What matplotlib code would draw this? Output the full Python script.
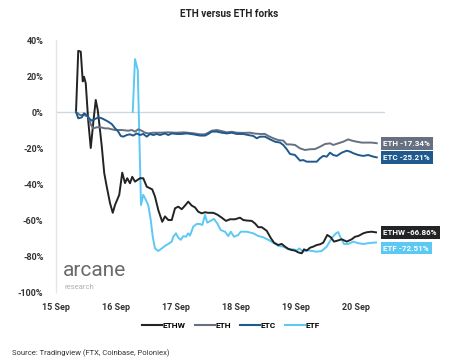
import matplotlib
matplotlib.use("Agg")
import matplotlib.pyplot as plt
from matplotlib.lines import Line2D

# hours since 15 Sep 00:00, values in %
ethw_t = [8.0, 8.9, 9.9, 10.7, 11.2, 11.9, 12.9, 13.9, 14.9, 15.9, 16.7, 17.6, 18.3, 19.3, 20.3, 21.6, 22.7, 23.6,
          25.3, 26.5, 27.6, 28.5, 29.6, 30.5, 31.6, 33.6, 34.9, 36.3, 38.5, 39.6, 40.9, 42.5, 43.6, 44.9, 46.3,
          47.6, 48.9, 50.3, 51.6, 52.9, 54.3, 55.6, 56.9, 58.3, 59.6, 60.9, 62.9, 64.5, 66.3, 68.0, 69.6, 71.6,
          73.6, 74.9, 76.3, 78.3, 79.6, 80.9, 82.3, 84.3, 85.9, 87.2, 88.9, 90.3, 91.6, 92.9, 94.3, 95.6, 96.9,
          98.3, 99.2, 100.3, 101.6, 102.9, 104.3, 105.6, 106.9, 108.5, 109.9, 111.2, 112.5, 114.3, 116.3, 118.3,
          119.6, 120.9, 122.9, 124.3, 126.3, 128.0]
ethw_v = [0, 34, 33.5, 17, 19.6, 16, -5, -20, -6, 6.7, 1, -10, -19, -34, -41.5, -50.6, -56, -51.7,
          -46, -33.7, -39.5, -36.8, -39.6, -36, -38.7, -36.8, -36.8, -41.5, -43, -47, -54.4, -61, -58, -60, -60,
          -53.5, -52.6, -54, -52, -49.8, -52, -53, -55.4, -56.3, -55.7, -56, -56, -57, -58.7, -60.5, -59.6, -59.6,
          -58.7, -60, -60.3, -60.5, -61.9, -64, -64, -66, -70, -72.6, -73.9, -73.3, -74.8, -76, -76.7, -77, -78,
          -78.5, -76.3, -77, -75.4, -74.8, -73.9, -73.5, -72.6, -68.3, -69.6, -72, -71.5, -70.7, -72, -70.7,
          -69.3, -68.9, -67.4, -66.8, -66.5, -66.86]

eth_t = [8.0, 9.6, 11.2, 12.9, 14.0, 14.9, 16.3, 17.9, 19.6, 20.9, 22.3, 23.6, 26.3, 28.9, 30.3, 31.6, 32.9,
         34.3, 35.6, 36.9, 38.8, 41.6, 44.8, 48.0, 51.2, 54.8, 57.6, 59.6, 60.9, 62.3, 64.3, 66.3, 68.3, 70.3,
         72.3, 74.9, 77.6, 79.6, 81.6, 83.6, 84.9, 86.9, 88.9, 90.9, 92.3, 93.6, 95.6, 97.6, 99.6, 101.6, 103.6,
         105.6, 107.6, 109.6, 110.9, 112.9, 114.9, 116.9, 118.3, 120.3, 122.3, 124.3, 126.3, 128.3]
eth_v = [0, -1.7, -1.7, -2.6, -7.2, -9.1, -8.5, -8.5, -9.1, -9.1, -9.6, -10, -10, -10.4, -10, -10.9, -9.6,
         -10.4, -11.5, -11.9, -11.5, -11.5, -11.3, -11.5, -11.3, -11.8, -12.4, -12.4, -11.5, -10.4, -10, -10.6,
         -11.3, -11, -11.5, -11.6, -11.5, -12.0, -12.2, -12.2, -13.3, -14.6, -15.6, -15.9, -18, -18, -18.3,
         -20.2, -21.1, -20.7, -20.6, -19.3, -17.8, -17.4, -18.3, -17.4, -16.5, -15.2, -15.9, -16.5, -17, -17,
         -17, -17.34]

etc_t = [8.0, 8.9, 10.3, 11.2, 12.3, 13.2, 14.3, 15.6, 16.9, 18.3, 19.6, 20.9, 22.3, 23.6, 24.9, 25.9, 26.9,
         28.3, 29.6, 30.9, 32.3, 33.6, 34.9, 36.3, 37.6, 38.9, 40.3, 41.6, 43.6, 44.9, 46.3, 48.3, 50.3, 52.3,
         54.9, 57.6, 59.6, 60.9, 62.3, 64.3, 66.3, 68.3, 70.3, 72.3, 74.9, 76.9, 78.9, 80.3, 81.6, 83.6, 85.6,
         87.6, 89.6, 90.9, 92.3, 93.6, 95.6, 97.6, 98.9, 100.3, 102.3, 104.3, 105.6, 106.9, 108.3, 109.6, 110.9,
         112.3, 114.3, 116.3, 117.6, 118.9, 120.9, 122.9, 124.9, 126.9, 128.3]
etc_v = [0, -3.5, -3, -0.7, -1.7, -3.5, -4.8, -3.9, -3, -3.5, -4.4, -5.4, -6.7, -9, -10.9, -13.3, -13.7,
         -12.8, -12.4, -13.1, -11.9, -12.8, -12.2, -13.7, -12.2, -12.8, -12.2, -12.8, -11.9, -12.8, -11.9, -12.2,
         -12.2, -11.9, -12.4, -13.1, -13.1, -12.2, -10.9, -10.9, -11.5, -11.9, -11.5, -12.2, -12.2, -12.8, -13.3,
         -14.6, -13.7, -13.7, -15.2, -16.5, -17, -18.3, -20.7, -23.3, -23.9, -27, -26.7, -27.6, -27.6, -27.6,
         -25.7, -24.4, -24.8, -22.6, -23.9, -24.4, -22.6, -21.5, -22, -22.9, -23.9, -24.4, -23.9, -24.8, -25.21]

etf_t = [30.7, 31.6, 32.7, 34.0, 34.9, 36.0, 36.9, 37.9, 38.7, 39.6, 40.9, 42.3, 43.6, 44.9, 46.3, 46.9, 48.0,
         48.9, 49.9, 50.9, 52.0, 52.9, 53.6, 54.9, 56.3, 57.6, 58.5, 59.6, 60.5, 61.9, 63.2, 64.5, 65.9, 67.6,
         68.9, 69.9, 71.2, 72.9, 73.9, 76.3, 78.9, 80.9, 82.9, 84.9, 86.9, 88.9, 90.9, 92.9, 94.9, 96.3, 97.3,
         98.9, 100.3, 102.3, 104.3, 106.3, 108.3, 110.3, 112.0, 112.9, 113.9, 115.2, 116.9, 118.9, 120.9, 122.9,
         124.9, 126.9, 128.0]
etf_v = [0, 29.4, 23.3, -51.7, -46, -49, -51.7, -60, -69.3, -75.8, -77.2, -75.8, -74.4, -73.3, -72, -69.3,
         -67.4, -69.8, -71, -69, -69.3, -67.4, -68.7, -63.7, -62.2, -62.2, -62.8, -57.2, -61.5, -60.4, -59.4,
         -61.9, -65.6, -66.5, -68.9, -66.5, -69.3, -68.3, -66.5, -66.5, -67.4, -68.9, -69.6, -71, -72.6, -74.4,
         -74.8, -76.3, -76.3, -77, -75.8, -77.6, -76.7, -77.2, -77.6, -77.2, -74.8, -70, -67.4, -66.7, -70,
         -73.3, -73.3, -72, -72.9, -73.3, -72.9, -72.6, -72.51]

tick_hours = [0, 24, 48, 72, 96, 120]
tick_labels = ["15 Sep", "16 Sep", "17 Sep", "18 Sep", "19 Sep", "20 Sep"]
y_ticks = [40, 20, 0, -20, -40, -60, -80, -100]

C_ETHW = "#222325"
C_ETH = "#667080"
C_ETC = "#1f5a8e"
C_ETF = "#5cc8f4"

plt.rcParams['font.family'] = ['Roboto', 'DejaVu Sans']
fig = plt.figure(figsize=(4.6, 3.6), dpi=100)
ax = fig.add_axes([56/460, 1-292/360, (385-56)/460, (292-40)/360])

ax.axhline(0, color="#cfd9dd", lw=1.0, zorder=1)
ax.plot(ethw_t, ethw_v, color=C_ETHW, lw=1.4, zorder=3)
ax.plot(eth_t, eth_v, color=C_ETH, lw=1.4, zorder=3)
ax.plot(etc_t, etc_v, color=C_ETC, lw=1.4, zorder=4)
ax.plot(etf_t, etf_v, color=C_ETF, lw=1.4, zorder=2)

ax.set_xlim(0, 131.6)
ax.set_ylim(-100, 40)
ax.set_xticks(tick_hours)
ax.set_xticklabels(tick_labels, fontsize=6.5, fontweight="bold", color="#333333")
ax.set_yticks(y_ticks)
ax.set_yticklabels([f"{v}%" for v in y_ticks], fontsize=6.5, fontweight="bold", color="#333333")
ax.tick_params(axis="x", length=0, pad=8)
ax.tick_params(axis="y", length=0, pad=9)
for s in ["top", "right", "bottom"]:
    ax.spines[s].set_visible(False)
ax.spines["left"].set_color("#e3e6e8")
ax.spines["left"].set_linewidth(1.0)

# end labels
labels = [("ETH -17.34%", -17.34, C_ETH), ("ETC -25.21%", -25.21, C_ETC),
          ("ETHW -66.86%", -66.86, C_ETHW), ("ETF -72.51%", -75.6, C_ETF)]
for txt, yv, col in labels:
    ax.text(131.0, yv, txt, fontsize=5.8, fontweight="bold", color="white", va="center", ha="left",
            clip_on=False, bbox=dict(boxstyle="square,pad=0.35", fc=col, ec="none"))

# watermark
fig.text(63/460, 1-271/360, "arcane", fontsize=15, color="#6a6a6a", va="center", ha="left")
fig.text(65/460, 1-287/360, "research", fontsize=5.5, color="#b0b0b0", va="center", ha="left")

fig.text(229/460, 1-14/360, "ETH versus ETH forks", fontsize=7.2, fontweight="bold", color="#222222",
         ha="center", va="center")

handles = [Line2D([0], [0], color=c, lw=1.5) for c in [C_ETHW, C_ETH, C_ETC, C_ETF]]
fig.legend(handles, ["ETHW", "ETH", "ETC", "ETF"], loc="center", bbox_to_anchor=(231/460, 1-325/360),
           ncol=4, frameon=False, handlelength=2.4, handletextpad=0.05, columnspacing=1.1,
           prop=dict(weight="bold", size=6))

fig.text(12/460, 1-353/360, "Source: Tradingview (FTX, Coinbase, Poloniex)", fontsize=5.5, color="#333333",
         ha="left", va="center")

fig.savefig("out.png", dpi=100)
